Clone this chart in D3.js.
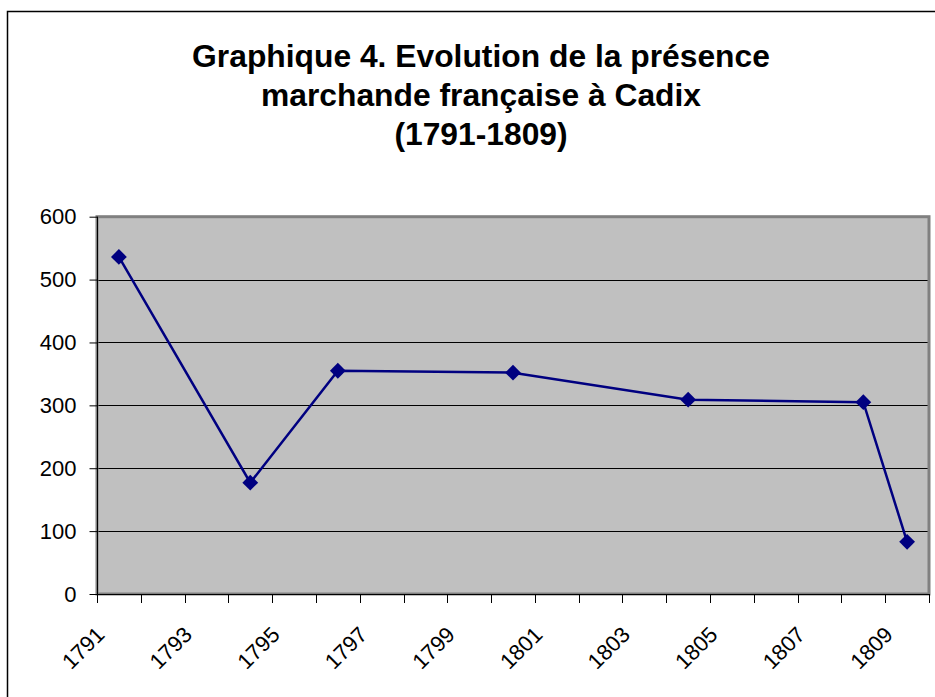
<!DOCTYPE html>
<html>
<head>
<meta charset="utf-8">
<script src="https://cdn.jsdelivr.net/npm/d3@7"></script>
<style>
  body { margin: 0; background: #fff; }
  text { font-family: "Liberation Sans", Arial, sans-serif; }
</style>
</head>
<body>
<svg id="chart" width="935" height="697"></svg>
<script>
var titleLines = ["Graphique 4. Evolution de la présence",
  "marchande française à Cadix", "(1791-1809)"];

var years = ["1791", "1792", "1793", "1794", "1795", "1796", "1797", "1798", "1799", "1800",
  "1801", "1802", "1803", "1804", "1805", "1806", "1807", "1808", "1809"];
var yearLabels = ["1791", "1793", "1795", "1797", "1799", "1801", "1803", "1805", "1807", "1809"];

var pointYears = ["1791", "1794", "1796", "1800", "1804", "1808", "1809"];
var pointValues = [536, 177, 355, 352, 309, 305, 83];

var yTicks = [0, 100, 200, 300, 400, 500, 600];

var svg = d3.select("#chart");
var plotL = 97, plotR = 929, plotT = 216.7, plotB = 594;

// outer frame
svg.append("rect")
  .attr("x", 7.5).attr("y", 11.5)
  .attr("width", 1000).attr("height", 1000)
  .attr("fill", "#fff").attr("stroke", "#000").attr("stroke-width", 1.5);

// title
svg.append("g").selectAll("text")
  .data(titleLines).enter().append("text")
  .attr("x", 481)
  .attr("y", function(d, i) { return 67 + i * 39; })
  .attr("text-anchor", "middle")
  .style("font-size", "31.8px").style("font-weight", "bold")
  .text(function(d) { return d; });

var x = d3.scaleBand().domain(years).range([plotL, plotR]).padding(0);
var y = d3.scaleLinear().domain([0, 600]).range([plotB, plotT]);

// plot area
svg.append("rect")
  .attr("x", plotL).attr("y", plotT)
  .attr("width", plotR - plotL).attr("height", plotB - plotT)
  .attr("fill", "#c0c0c0");

svg.append("g").selectAll("line")
  .data(yTicks.filter(function(d) { return d > 0 && d < 600; }))
  .enter().append("line")
  .attr("x1", plotL).attr("x2", plotR)
  .attr("y1", function(d) { return Math.round(y(d)) + 0.5; })
  .attr("y2", function(d) { return Math.round(y(d)) + 0.5; })
  .attr("stroke", "#000").attr("stroke-width", 1);

svg.append("rect")
  .attr("x", plotL).attr("y", plotT)
  .attr("width", plotR - plotL).attr("height", plotB - plotT)
  .attr("fill", "none").attr("stroke", "#808080").attr("stroke-width", 3);

// y axis
var yAxis = d3.axisLeft(y).tickValues(yTicks).tickSize(8).tickPadding(13);
var gy = svg.append("g").attr("transform", "translate(" + (plotL + 0.5) + ",0)").call(yAxis);
gy.select(".domain").attr("stroke", "#000").attr("d", "M0," + plotT + "V" + plotB);
gy.selectAll("text").style("font-size", "22px").attr("fill", "#000")
  .attr("font-family", null);

// x axis: ticks between categories
var bounds = years.map(function(d) { return x(d); }).concat([plotR]);
var gx = svg.append("g");
gx.append("line")
  .attr("x1", plotL).attr("x2", plotR + 0.5)
  .attr("y1", plotB + 0.5).attr("y2", plotB + 0.5)
  .attr("stroke", "#000");
gx.selectAll(".tick").data(bounds).enter().append("line")
  .attr("class", "tick")
  .attr("x1", function(d) { return Math.round(d) + 0.5; })
  .attr("x2", function(d) { return Math.round(d) + 0.5; })
  .attr("y1", plotB).attr("y2", plotB + 9)
  .attr("stroke", "#000");
gx.selectAll("text").data(yearLabels).enter().append("text")
  .attr("transform", function(d) {
    return "translate(" + (x(d) + x.bandwidth() / 2 - 13) + "," + 636 + ") rotate(-45)";
  })
  .attr("text-anchor", "end")
  .style("font-size", "22px")
  .text(function(d) { return d; });

// series
var pts = pointYears.map(function(d, i) {
  return [x(d) + x.bandwidth() / 2, y(pointValues[i])];
});
svg.append("path")
  .attr("d", d3.line()(pts))
  .attr("fill", "none").attr("stroke", "#000080").attr("stroke-width", 2.5);

svg.append("g").selectAll("path")
  .data(pts).enter().append("path")
  .attr("d", d3.symbol(d3.symbolSquare, 125))
  .attr("transform", function(d) { return "translate(" + d[0] + "," + d[1] + ") rotate(45)"; })
  .attr("fill", "#000080");
</script>
</body>
</html>
